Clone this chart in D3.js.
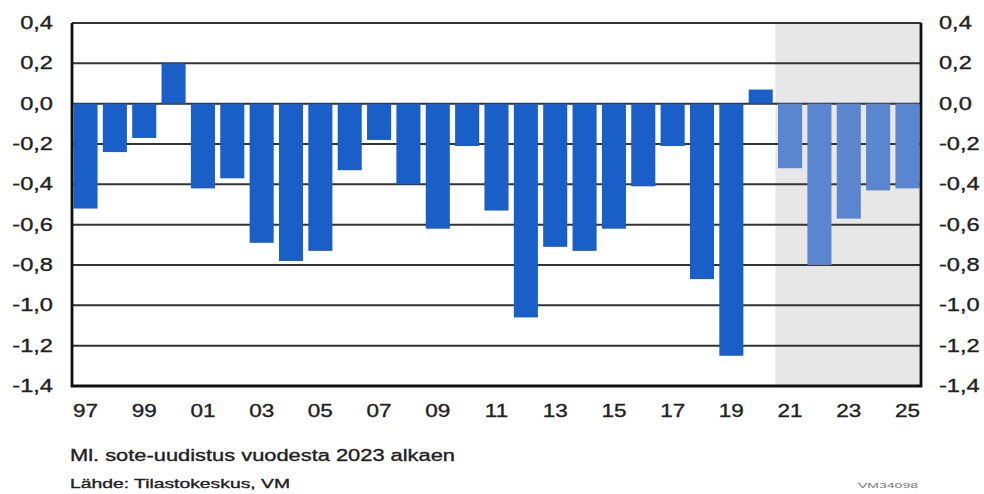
<!DOCTYPE html>
<html>
<head>
<meta charset="utf-8">
<script src="https://cdn.jsdelivr.net/npm/d3@7"></script>
<style>
  body { margin: 0; background: #fff; }
  text { font-family: "Liberation Sans", Arial, sans-serif; fill: #222; stroke: #222; stroke-width: 0.35; }
</style>
</head>
<body>
<svg width="984" height="494"></svg>
<script>
// Data
const years = ["97","98","99","00","01","02","03","04","05","06","07","08","09","10",
               "11","12","13","14","15","16","17","18","19","20","21","22","23","24","25"];
const values = [-0.52,-0.24,-0.17,0.20,-0.42,-0.37,-0.69,-0.78,-0.73,-0.33,-0.18,-0.40,-0.62,-0.21,
                -0.53,-1.06,-0.71,-0.73,-0.62,-0.41,-0.21,-0.87,-1.25,0.07,-0.32,-0.80,-0.57,-0.43,-0.42];
const forecastFrom = "21";
const yTicks = [0.4,0.2,0.0,-0.2,-0.4,-0.6,-0.8,-1.0,-1.2,-1.4];
const xLabels = ["97","99","01","03","05","07","09","11","13","15","17","19","21","23","25"];
const note = "Ml. sote-uudistus vuodesta 2023 alkaen";
const source = "Lähde: Tilastokeskus, VM";
const code = "VM34098";

const plotL = 72, plotR = 921, plotT = 23, plotB = 386;
const svg = d3.select("svg");

const x = d3.scaleBand().domain(years).range([plotL, plotR])
    .paddingInner(0.18).paddingOuter(0.05);
const y = d3.scaleLinear().domain([-1.4, 0.4]).range([plotB, plotT]);
const fmt = v => d3.format(".1f")(v).replace(".", ",").replace("−", "-");

// shaded forecast area
const fIdx = years.indexOf(forecastFrom);
const shadeX = x(forecastFrom) - x.step() * x.paddingInner() / 2;
svg.append("rect")
    .attr("x", shadeX).attr("y", plotT)
    .attr("width", plotR - shadeX).attr("height", plotB - plotT)
    .attr("fill", "#e7e7e7");

// gridlines
svg.append("g").selectAll("line")
    .data(yTicks)
    .enter()
    .append("line")
    .attr("x1", plotL).attr("x2", plotR)
    .attr("y1", d => y(d)).attr("y2", d => y(d))
    .attr("stroke", "#333")
    .attr("stroke-width", 2);

// bars
svg.append("g").selectAll("rect")
    .data(years)
    .enter()
    .append("rect")
    .attr("x", d => x(d))
    .attr("width", x.bandwidth())
    .attr("y", (d, i) => y(Math.max(0, values[i])))
    .attr("height", (d, i) => Math.abs(y(values[i]) - y(0)))
    .attr("fill", (d, i) => i >= fIdx ? "#5a86d0" : "#1a5ec8");

// frame
svg.append("path")
    .attr("d", `M${plotL},${plotT}V${plotB}H${plotR}V${plotT}`)
    .attr("fill", "none")
    .attr("stroke", "#111")
    .attr("stroke-width", 2.8);

// y labels
svg.append("g").selectAll("text")
    .data(yTicks)
    .enter()
    .append("text")
    .attr("text-anchor", "end")
    .attr("transform", d => `translate(53,${y(d) + 6}) scale(1.35,1)`)
    .attr("font-size", 17.5)
    .text(fmt);

svg.append("g").selectAll("text")
    .data(yTicks)
    .enter()
    .append("text")
    .attr("transform", d => `translate(939,${y(d) + 6}) scale(1.35,1)`)
    .attr("font-size", 17.5)
    .text(fmt);

// x labels
svg.append("g").selectAll("text")
    .data(xLabels)
    .enter()
    .append("text")
    .attr("text-anchor", "middle")
    .attr("transform", d => `translate(${x(d) + x.bandwidth() / 2},417) scale(1.25,1)`)
    .attr("font-size", 18)
    .text(d => d);

// notes
svg.append("text")
    .attr("x", 70).attr("y", 461)
    .attr("font-size", 16)
    .attr("textLength", 385).attr("lengthAdjust", "spacingAndGlyphs")
    .text(note);

svg.append("text")
    .attr("x", 70).attr("y", 488)
    .attr("font-size", 13)
    .attr("textLength", 220).attr("lengthAdjust", "spacingAndGlyphs")
    .text(source);

svg.append("text")
    .attr("x", 858).attr("y", 488)
    .attr("font-size", 8)
    .attr("textLength", 60).attr("lengthAdjust", "spacingAndGlyphs")
    .style("fill", "#777").style("stroke", "none")
    .text(code);
</script>
</body>
</html>
